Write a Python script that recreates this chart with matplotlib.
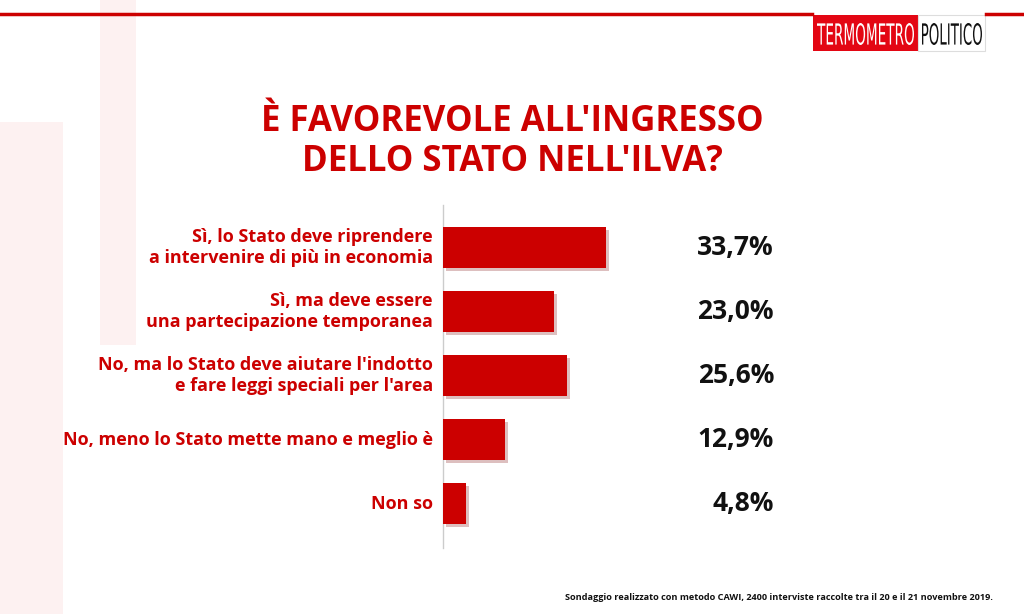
import numpy as np
import matplotlib.pyplot as plt
from matplotlib import patheffects as pe
from matplotlib.patches import Rectangle, Wedge, PathPatch
from matplotlib.textpath import TextPath
from matplotlib.font_manager import FontProperties
from matplotlib.transforms import Affine2D

labels = ["Sì, lo Stato deve riprendere\na intervenire di più in economia",
          "Sì, ma deve essere\nuna partecipazione temporanea",
          "No, ma lo Stato deve aiutare l'indotto\ne fare leggi speciali per l'area",
          "No, meno lo Stato mette mano e meglio è",
          "Non so"]
values = [33.7, 23.0, 25.6, 12.9, 4.8]
value_text = ["33,7%", "23,0%", "25,6%", "12,9%", "4,8%"]

red = '#cc0000'
W, H = 1024, 614

fig = plt.figure(figsize=(10.24, 6.14), dpi=100)

# faint background watermark
bg = fig.add_axes([0, 0, 1, 1], zorder=0)
bg.set_xlim(0, W)
bg.set_ylim(H, 0)
bg.axis('off')
wm = '#fdf1f1'
bg.add_patch(Rectangle((0, 122), 63, 500, color=wm, lw=0))
bg.add_patch(Rectangle((100, 0), 36, 345, color=wm, lw=0))
bg.add_patch(Wedge((100, 620), 240, 0, 90, width=45, color=wm, lw=0))
# top rules and logo
bg.plot([0, 812], [14, 14], color=red, lw=2.5)
bg.plot([986, W], [14, 14], color=red, lw=2.5)
bg.add_patch(Rectangle((813, 15), 105, 36, color='#e30613', lw=0))
bg.add_patch(Rectangle((918, 15), 67, 36, facecolor='white', edgecolor='#dddddd', lw=0.8))


def squeezed(word, x0, x1, ytop, ybot, color):
    tp = TextPath((0, 0), word, size=10, prop=FontProperties(family='DejaVu Sans'))
    ext = tp.get_extents()
    sx = (x1 - x0) / ext.width
    sy = (ybot - ytop) / ext.height
    tr = Affine2D().translate(-ext.x0, -ext.y0).scale(sx, -sy).translate(x0, ybot)
    bg.add_patch(PathPatch(tr.transform_path(tp), color=color, lw=0))


squeezed("TERMOMETRO", 817, 914, 23, 45, 'white')
squeezed("POLITICO", 922, 982, 23, 45, '#111111')

fig.text(0.5, 1 - 142 / H, "È FAVOREVOLE ALL'INGRESSO\nDELLO STATO NELL'ILVA?", ha='center', va='center',
         color=red, fontsize=25, fontweight='bold', family='Open Sans', linespacing=1.15)

ax = fig.add_axes([443 / W, 1 - 548 / H, (780 - 443) / W, 343 / H], zorder=2)
ax.patch.set_alpha(0)
y = np.arange(len(values))
bars = ax.barh(y, values, height=0.64, color=red, zorder=3,
               path_effects=[pe.SimplePatchShadow(offset=(2, -2), alpha=0.25, rho=0.6), pe.Normal()])
ax.set_xlim(0, (780 - 443) / 4.84)
ax.set_ylim(len(values) - 1 + 0.69, -0.67)
for s in ['top', 'right', 'bottom']:
    ax.spines[s].set_visible(False)
ax.spines['left'].set_color('#cccccc')
ax.spines['left'].set_linewidth(1)
ax.set_xticks([])
ax.set_yticks([])

for yi, lab, vt in zip(y, labels, value_text):
    ax.text(-0.03, yi, lab, transform=ax.get_yaxis_transform(), ha='right', va='center',
            color=red, fontsize=13, fontweight='bold', family='Open Sans', linespacing=1.2)
    ax.text(0.982, yi, vt, transform=ax.get_yaxis_transform(), ha='right', va='center',
            color='#111111', fontsize=19, fontweight='bold', family='Open Sans')

fig.text(993 / W, 1 - 598 / H,
         "Sondaggio realizzato con metodo CAWI, 2400 interviste raccolte tra il 20 e il 21 novembre 2019.",
         ha='right', va='center', fontsize=6.6, fontweight='bold', family='Open Sans', color='#111111')

plt.savefig('out.png', dpi=100)
